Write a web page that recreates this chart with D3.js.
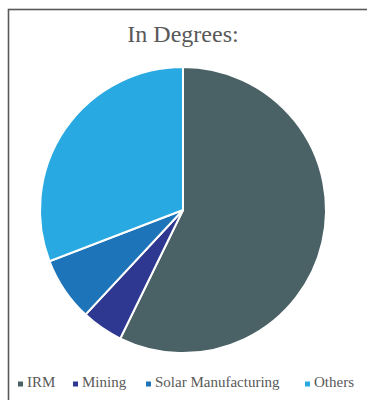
<!DOCTYPE html>
<html>
<head>
<meta charset="utf-8">
<script src="https://cdn.jsdelivr.net/npm/d3@7"></script>
<style>
  body { margin: 0; background: #fff; }
  svg { display: block; }
</style>
</head>
<body>
<script>
// chart size
var w = 367;
var h = 400;

// data (degrees of the circle)
var categories = ["IRM", "Mining", "Solar Manufacturing", "Others"];
var degrees = [206, 17, 26, 111];
var colors = ["#4a6165", "#2e3890", "#1e74b8", "#29a9e1"];

var svg = d3.select("body")
  .append("svg")
  .attr("width", w)
  .attr("height", h);

// frame, cut off on the right and bottom
svg.append("rect")
  .attr("x", 8.5)
  .attr("y", 9.5)
  .attr("width", 400)
  .attr("height", 420)
  .attr("fill", "none")
  .attr("stroke", "#595959")
  .attr("stroke-width", 1.6);

svg.append("text")
  .attr("x", 183)
  .attr("y", 42)
  .attr("text-anchor", "middle")
  .style("font-family", "'Liberation Serif', serif")
  .style("font-size", "24px")
  .style("fill", "#595959")
  .text("In Degrees:");

var data = categories.map(function(c, i) {
  return {name: c, value: degrees[i], color: colors[i]};
});

var pie = d3.pie()
  .sort(null)
  .value(function(d) { return d.value; });

var arc = d3.arc()
  .innerRadius(0)
  .outerRadius(143);

var g = svg.append("g")
  .attr("transform", "translate(183,210)");

g.selectAll("path")
  .data(pie(data))
  .enter()
  .append("path")
  .attr("d", arc)
  .attr("fill", function(d) { return d.data.color; })
  .attr("stroke", "#fff")
  .attr("stroke-width", 2);

// legend
var legendX = d3.scaleOrdinal()
  .domain(categories)
  .range([18, 73, 146, 305]);

var legend = svg.selectAll(".legend")
  .data(data)
  .enter()
  .append("g")
  .attr("class", "legend")
  .attr("transform", function(d) { return "translate(" + legendX(d.name) + ",387)"; });

legend.append("rect")
  .attr("x", 0)
  .attr("y", -5.5)
  .attr("width", 5)
  .attr("height", 5)
  .attr("fill", function(d) { return d.color; });

legend.append("text")
  .attr("x", 9)
  .attr("y", 0)
  .style("font-family", "'Liberation Serif', serif")
  .style("font-size", "15px")
  .style("fill", "#595959")
  .text(function(d) { return d.name; });
</script>
</body>
</html>
